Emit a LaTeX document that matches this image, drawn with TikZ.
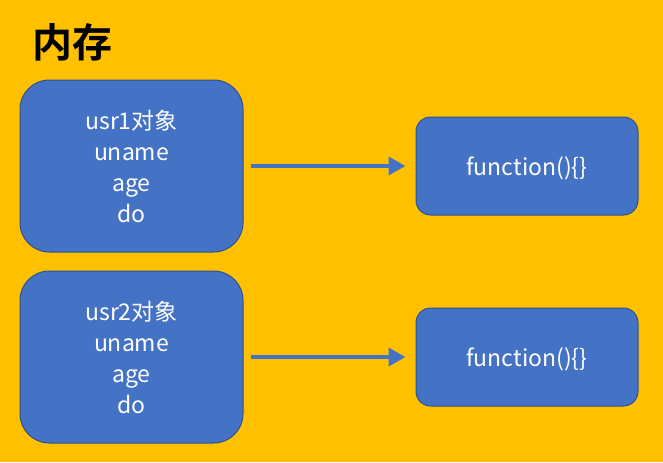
\documentclass[tikz,border=0pt]{standalone}
\usepackage{fontspec}
\setmainfont{Noto Sans CJK SC}
\newfontfamily\titlefont{Noto Sans CJK SC Bold}
\usepackage{tikz}
\usetikzlibrary{arrows.meta,positioning}
\usepackage{xcolor}
\definecolor{memorange}{RGB}{255,192,0}
\definecolor{memblue}{RGB}{68,114,196}
\definecolor{memborder}{RGB}{47,82,143}
\tikzstyle{object} = [rectangle, rounded corners=22pt, minimum width=167.25pt, minimum height=129pt, align=center, draw=memborder, fill=memblue, line width=0.75pt, text=white, font=\fontsize{17.25pt}{23.25pt}\selectfont]
\tikzstyle{func} = [rectangle, rounded corners=11pt, minimum width=166.5pt, minimum height=73.5pt, align=center, draw=memborder, fill=memblue, line width=0.75pt, text=white, text depth=0pt, font=\fontsize{17.25pt}{23.25pt}\selectfont]
\tikzstyle{arrow} = [line width=3pt, -{Triangle[length=12.75pt, width=13.5pt]}, color=memblue, shorten <=5.25pt, shorten >=7.5pt]

\begin{document}
\begin{tikzpicture}[x=0.75pt, y=-0.75pt]
% background
\fill[memorange] (0,0) rectangle (663,462);

% title
\node (mem) [anchor=west, inner sep=0pt, font=\titlefont\fontsize{30pt}{30pt}\selectfont] at (32,42) {内存};

% objects
\node (usr1) [object] at (131.5,166) {usr1对象\\uname\\age\\do};
\node (usr2) [object, below=13.5pt of usr1] {usr2对象\\uname\\age\\do};

% functions
\node (func1) [func, right=129pt of usr1] {function()\{\}};
\node (func2) [func, right=129pt of usr2] {function()\{\}};

% Arrows
\draw[arrow] (usr1) -- (func1);
\draw[arrow] (usr2) -- (func2);
\end{tikzpicture}
\end{document}
